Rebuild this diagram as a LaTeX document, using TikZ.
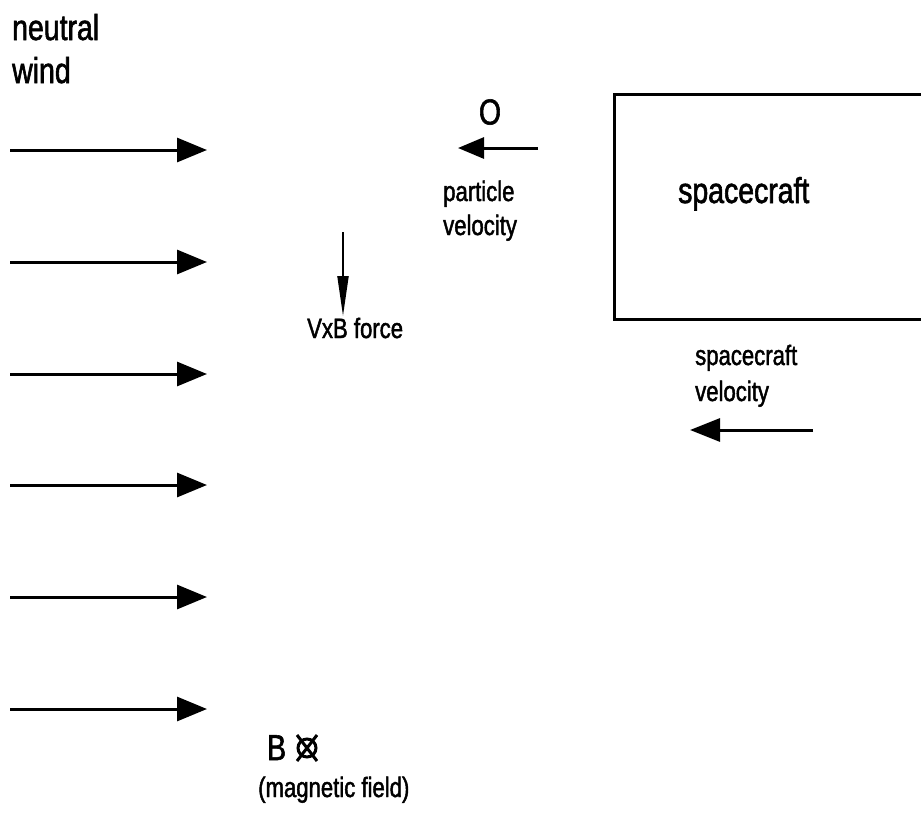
\documentclass[tikz,border=0pt]{standalone}
\usepackage{fontspec}
\setmainfont{Liberation Sans}[FakeStretch=0.79,FakeBold=1.6]
\usetikzlibrary{arrows.meta,calc}
\tikzset{
  big/.style={font=\fontsize{36}{40}\selectfont, inner sep=0pt, anchor=base west},
  small/.style={font=\fontsize{28}{34}\selectfont, inner sep=0pt, anchor=base west},
  wind/.style={line width=3pt, -{Triangle[length=30pt,width=24pt]}},
  vel/.style={line width=3pt, -{Triangle[length=26pt,width=21pt]}},
  force/.style={line width=2pt, -{Triangle[length=40pt,width=11pt]}},
  bsym/.style={line width=3pt},
}
\begin{document}
\begin{tikzpicture}[x=1pt,y=-1pt]
\useasboundingbox (0,0) rectangle (921,820);
\fill[white] (0,0) rectangle (921,820);
% neutral wind label
\node[big] (nw1) at (12,40) {neutral};
\node[big] (nw2) at (12,83) {wind};
% wind arrows
\foreach \i/\y in {1/150,2/262,3/374,4/485,5/597,6/709}{
  \coordinate (ws\i) at (10,\y);
  \coordinate (we\i) at (207,\y);
  \draw[wind] (ws\i) -- (we\i);
}
% particle
\node[big, anchor=center] (O) at (490,112) {O};
\coordinate (ps) at (538,148);
\coordinate (pe) at (458,148);
\draw[vel] (ps) -- (pe);
\node[small] (pv1) at (443,201) {particle};
\node[small] (pv2) at (443,235) {velocity};
% spacecraft box
\node[draw, line width=3pt, minimum width=340pt, minimum height=225pt, anchor=north west, inner sep=0pt] (box) at (613,93) {};
\node[big] (sc) at (678,203) {spacecraft};
% spacecraft velocity
\node[small] (scv1) at (695,365) {spacecraft};
\node[small] (scv2) at (695,401) {velocity};
\coordinate (ss) at (813,430);
\coordinate (se) at (690,430);
\draw[vel,-{Triangle[length=30pt,width=23pt]}] (ss) -- (se);
% VxB force
\coordinate (fs) at (343,232);
\coordinate (fe) at (343,316);
\draw[force] (fs) -- (fe);
\node[small] (vxb) at (307,338) {VxB force};
% magnetic field
\node[big] (B) at (267,760) {B};
\coordinate (bx) at (307,748);
\draw[bsym] (bx) circle (9pt);
\draw[bsym] ($(bx)+(-10,-13)$) -- ($(bx)+(10,13)$);
\draw[bsym] ($(bx)+(-10,13)$) -- ($(bx)+(10,-13)$);
\node[small] (mf) at (258,797) {(magnetic field)};
\end{tikzpicture}
\end{document}
